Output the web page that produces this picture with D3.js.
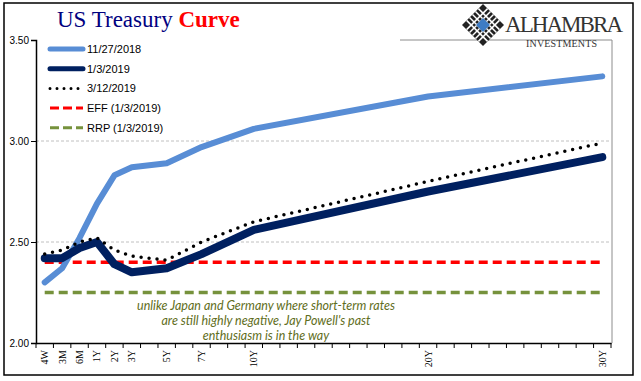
<!DOCTYPE html>
<html><head><meta charset="utf-8">
<script src="https://cdn.jsdelivr.net/npm/d3@7"></script>
<style>html,body{margin:0;padding:0;background:#fff;}svg{display:block;}</style>
</head><body>
<svg id="c" width="641" height="381"></svg>
<script>
// ---- data ----
const categories = ["4W","3M","6M"].concat(d3.range(1,31).map(d => d + "Y"));
const tickLabels = ["4W","3M","6M","1Y","2Y","3Y","5Y","7Y","10Y","20Y","30Y"];
const tenors = ["4W","3M","6M","1Y","2Y","3Y","5Y","7Y","10Y","20Y","30Y"];
const nov27_2018 = [2.30,2.37,2.52,2.69,2.83,2.87,2.89,2.97,3.06,3.22,3.32];
const jan3_2019  = [2.42,2.42,2.47,2.50,2.39,2.35,2.37,2.44,2.56,2.75,2.92];
const mar12_2019 = [2.44,2.46,2.50,2.52,2.46,2.43,2.41,2.50,2.60,2.80,2.99];
const eff = 2.40;
const rrp = 2.25;
const yTicks = [2.00,2.50,3.00,3.50];
const seriesNames = ["11/27/2018","1/3/2019","3/12/2019","EFF (1/3/2019)","RRP (1/3/2019)"];
const noteLines = ["unlike Japan and Germany where short-term rates","are still highly negative, Jay Powell's past","enthusiasm is in the way"];

const svg = d3.select("#c");
const L = 36, R = 611, T = 40, B = 343;
const x = d3.scaleBand().domain(categories).range([L, R]).padding(0);
const y = d3.scaleLinear().domain([2, 3.5]).range([B, T]);
const cx = c => x(c) + x.bandwidth()/2;

// frame
svg.append("rect").attr("x",4).attr("y",3).attr("width",629).attr("height",372)
  .attr("fill","#fff").attr("stroke","#000").attr("stroke-width",1.5);

// gridlines
svg.append("g").selectAll("line").data([2.5,3.0]).join("line")
  .attr("x1",L).attr("x2",R).attr("y1",d=>y(d)).attr("y2",d=>y(d))
  .attr("stroke","#b0b0b0").attr("stroke-width",0.8).attr("stroke-dasharray","3,2");
// plot area border pieces (top/right)
svg.append("line").attr("x1",400).attr("x2",R+1).attr("y1",y(3.5)).attr("y2",y(3.5)).attr("stroke","#8c8c8c").attr("stroke-width",1);
svg.append("line").attr("x1",R+1).attr("x2",R+1).attr("y1",T).attr("y2",B).attr("stroke","#8c8c8c").attr("stroke-width",1);

// y axis
const yAxis = svg.append("g").attr("transform",`translate(${L},0)`)
  .call(d3.axisLeft(y).tickValues(yTicks).tickFormat(d3.format(".2f")).tickSize(5).tickPadding(2));
yAxis.select(".domain").attr("stroke","#000").attr("stroke-width",1.5);
yAxis.selectAll("text").attr("font-family","Liberation Sans, Arial, sans-serif").attr("font-size",10).attr("fill","#000");

// x axis
const xAxis = svg.append("g").attr("transform",`translate(0,${B})`)
  .call(d3.axisBottom(x).tickSize(0).tickFormat(d => tickLabels.includes(d) ? d : ""));
xAxis.select(".domain").attr("stroke","#000").attr("stroke-width",1.5);
xAxis.selectAll(".tick text")
  .attr("font-family","Liberation Serif, Times New Roman, serif").attr("font-size",10).attr("fill","#000")
  .attr("transform","rotate(-90)").attr("text-anchor","end").attr("dy","0.35em").attr("x",-7).attr("y",0);
// boundary ticks
svg.append("g").selectAll("line").data(categories.concat(["__end"])).join("line")
  .attr("x1",(d,i)=> i<categories.length ? x(d) : R).attr("x2",(d,i)=> i<categories.length ? x(d) : R)
  .attr("y1",B).attr("y2",B+5).attr("stroke","#000").attr("stroke-width",1);

// reference lines
svg.append("line").attr("x1",cx(categories[0])).attr("x2",cx(categories[categories.length-1]))
  .attr("y1",y(rrp)).attr("y2",y(rrp)).attr("stroke","#76923C").attr("stroke-width",3.5).attr("stroke-dasharray","9,5");
svg.append("line").attr("x1",cx(categories[0])).attr("x2",cx(categories[categories.length-1]))
  .attr("y1",y(eff)).attr("y2",y(eff)).attr("stroke","#FF0000").attr("stroke-width",3.5).attr("stroke-dasharray","9,5");

const line = d3.line().x((d,i)=>cx(tenors[i])).y(d=>y(d));
svg.append("path").datum(nov27_2018).attr("d",line).attr("fill","none")
  .attr("stroke","#588DD5").attr("stroke-width",6).attr("stroke-linejoin","round").attr("stroke-linecap","round");
svg.append("path").datum(jan3_2019).attr("d",line).attr("fill","none")
  .attr("stroke","#002060").attr("stroke-width",8).attr("stroke-linejoin","round").attr("stroke-linecap","round");
svg.append("path").datum(mar12_2019).attr("d",line).attr("fill","none")
  .attr("stroke","#000").attr("stroke-width",3.5).attr("stroke-dasharray","0,8").attr("stroke-linecap","round");

// legend
const lg = svg.append("g");
const legStyles = [
  {c:"#588DD5", w:5, dash:null, cap:"round"},
  {c:"#002060", w:5, dash:null, cap:"round"},
  {c:"#000", w:3, dash:"0,7", cap:"round"},
  {c:"#FF0000", w:3, dash:"9,4", cap:"butt"},
  {c:"#76923C", w:3, dash:"9,4", cap:"butt"}
];
seriesNames.forEach((n,i)=>{
  const yy = 49 + i*19.7;
  const s = legStyles[i];
  lg.append("line").attr("x1",50).attr("x2",83).attr("y1",yy).attr("y2",yy)
    .attr("stroke",s.c).attr("stroke-width",s.w).attr("stroke-dasharray",s.dash).attr("stroke-linecap",s.cap);
  lg.append("text").attr("x",87).attr("y",yy+4).text(n)
    .attr("font-family","Liberation Sans, Arial, sans-serif").attr("font-size",11).attr("fill","#000");
});

// annotation
svg.append("g").selectAll("text").data(noteLines).join("text")
  .attr("x",266).attr("y",(d,i)=>310+i*15).attr("text-anchor","middle")
  .attr("font-family","Lato, Open Sans, sans-serif").attr("font-style","italic").attr("font-size",12.5)
  .attr("fill","#5F6E22").text(d=>d);

// title
const t = svg.append("text").attr("x",57).attr("y",27)
  .attr("font-family","Liberation Serif, Times New Roman, serif").attr("font-size",23);
t.append("tspan").attr("fill","#000080").text("US Treasury ");
t.append("tspan").attr("fill","#FF0000").attr("font-weight","bold").text("Curve");

// logo
const lgo = svg.append("g").attr("transform","translate(483,25)");
const s = 21;
lgo.append("path").attr("d",`M0,${-s}L${s},0L0,${s}L${-s},0Z`).attr("fill","#222");
for (let k=-2;k<=2;k++){
  const o = k*s/5*1.4;
  lgo.append("line").attr("x1",-s/2+o*0.5).attr("y1",-s/2-o*0.5).attr("x2",s/2+o*0.5).attr("y2",s/2-o*0.5).attr("stroke","#fff").attr("stroke-width",1.5);
  lgo.append("line").attr("x1",-s/2+o*0.5).attr("y1",s/2+o*0.5).attr("x2",s/2+o*0.5).attr("y2",-s/2+o*0.5).attr("stroke","#fff").attr("stroke-width",1.5);
}
lgo.append("path").attr("d",`M0,-7L7,0L0,7L-7,0Z`).attr("fill","#3E7CC4");
svg.append("text").attr("x",505).attr("y",32).text("ALHAMBRA")
  .attr("font-family","Liberation Serif, Times New Roman, serif").attr("font-size",23).attr("fill","#333").attr("textLength",118);
svg.append("text").attr("x",526).attr("y",47).text("INVESTMENTS")
  .attr("font-family","Liberation Serif, Times New Roman, serif").attr("font-size",10).attr("fill","#333").attr("textLength",71);
</script>
</body></html>
